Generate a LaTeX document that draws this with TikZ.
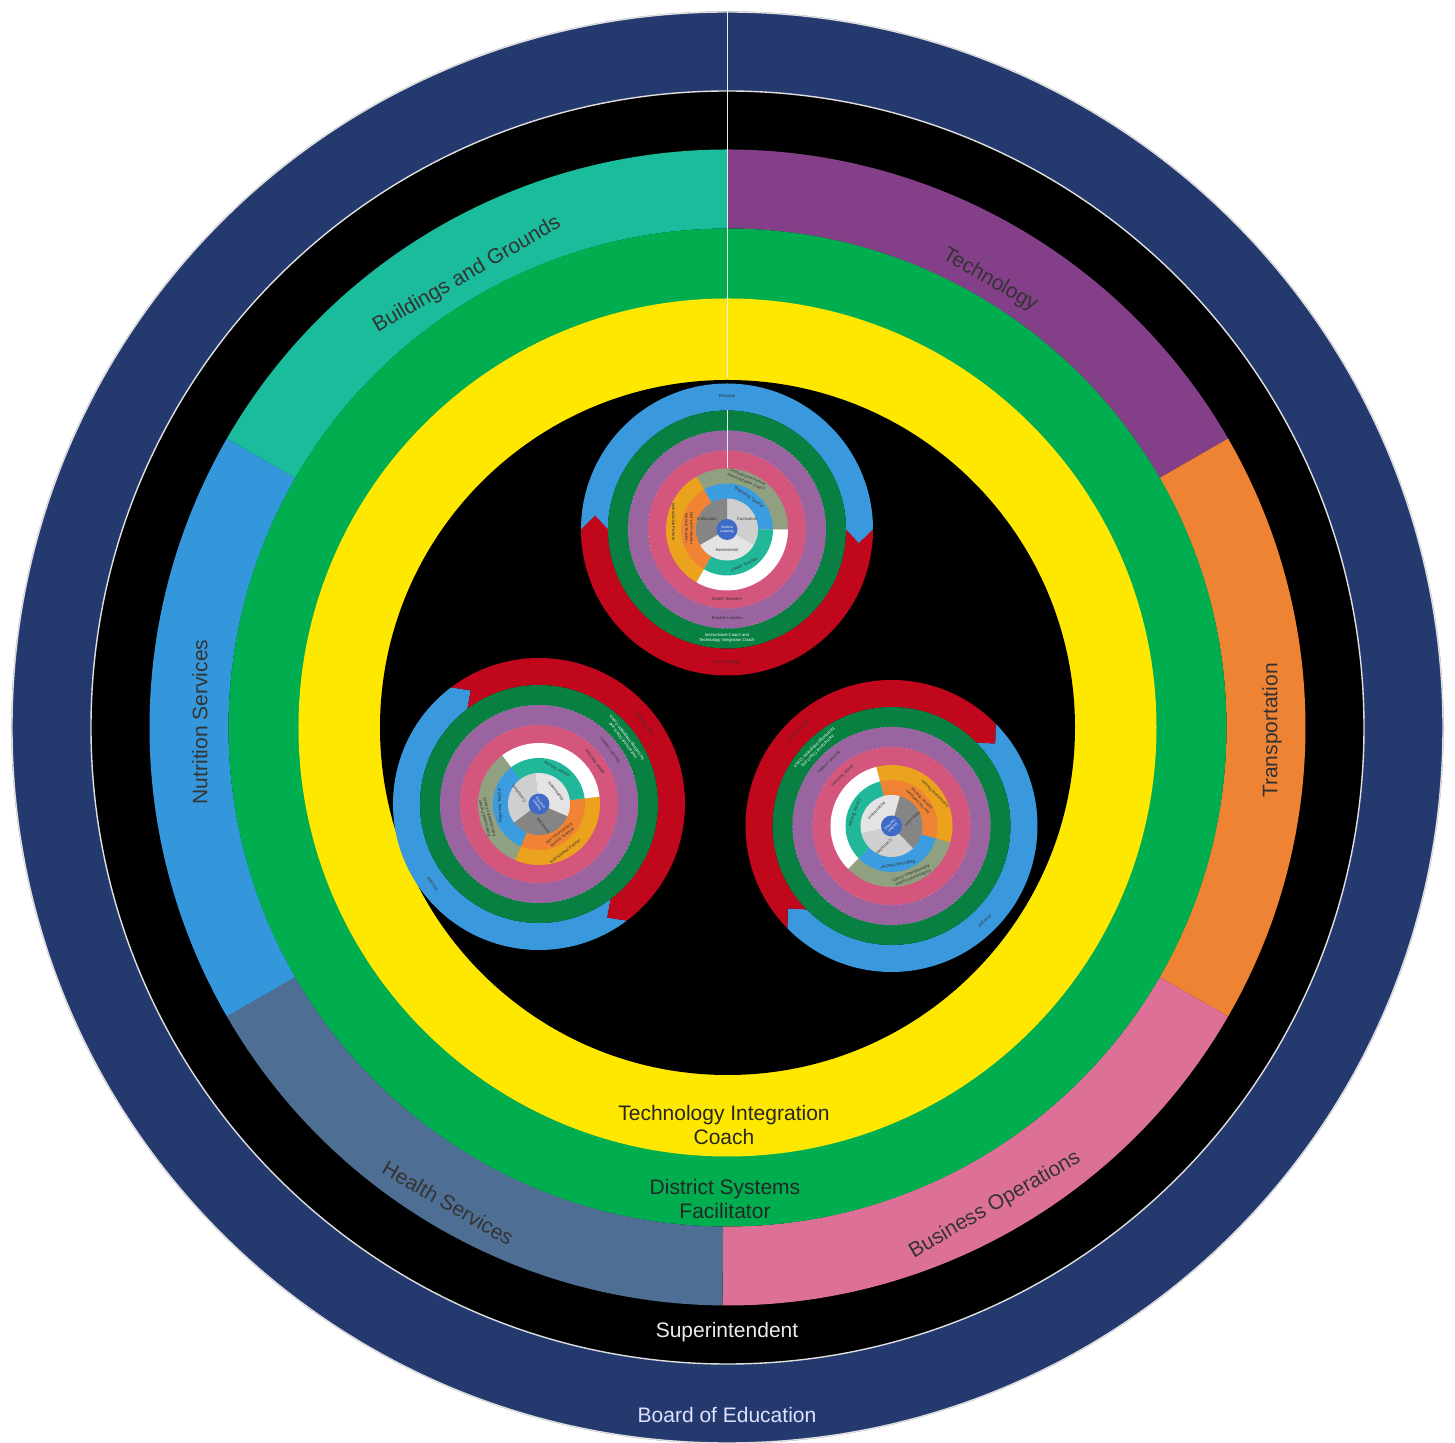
\documentclass[tikz,border=0pt]{standalone}
\usepackage{fontspec}
\setmainfont{Liberation Sans}
\definecolor{navy}{HTML}{243A6F}
\definecolor{tech}{HTML}{833F87}
\definecolor{transp}{HTML}{EE8334}
\definecolor{busops}{HTML}{DD7096}
\definecolor{health}{HTML}{4E6F93}
\definecolor{nutr}{HTML}{3597DB}
\definecolor{bldg}{HTML}{1ABC9C}
\definecolor{dgreen}{HTML}{00AE4F}
\definecolor{dyellow}{HTML}{FFE800}
\definecolor{sblue}{HTML}{3A99DD}
\definecolor{sred}{HTML}{C0071B}
\definecolor{sgreen}{HTML}{078042}
\definecolor{spurple}{HTML}{9A64A0}
\definecolor{spink}{HTML}{D4567C}
\definecolor{solive}{HTML}{90A182}
\definecolor{sgold}{HTML}{EBA21C}
\definecolor{smblue}{HTML}{3B9CE0}
\definecolor{sorange}{HTML}{F08434}
\definecolor{steal}{HTML}{21B89A}
\definecolor{scurr}{HTML}{CFCFCF}
\definecolor{sinstr}{HTML}{858585}
\definecolor{sassess}{HTML}{E4E4E4}
\definecolor{scenter}{HTML}{3F6BC6}
\newcommand\mainf{\fontsize{10.5}{12}\selectfont}
\newcommand\tinyf{\fontsize{2.1}{2.5}\selectfont}
\newcommand\tinierf{\fontsize{1.7}{2}\selectfont}
\newcommand\annsec[5]{\fill[#1] (#2:#5) arc[start angle=#2,end angle=#3,radius=#5] -- (#3:#4) arc[start angle=#3,end angle=#2,radius=#4] -- cycle;}
\tikzset{
  rimline/.style={draw=white!75!gray,line width=0.7pt},
  seam/.style={draw=white!85!gray,line width=0.7pt},
  sseam/.style={draw=white!85!gray,line width=0.25pt},
  sdot/.style={draw=white!80!gray,line width=0.2pt,dotted},
  seglabel/.style={font=\mainf,text=black!80,inner sep=0pt},
  ringlabel/.style={font=\mainf,inner sep=0pt,align=center},
  stxt/.style={font=\tinyf,transform shape,inner sep=0pt,align=center,text=black!80},
}
\newcommand\school[1]{%
\fill[sblue] (180:146) arc[start angle=180,end angle=0,radius=146] -- (-6:132.5) -- (0:119) arc[start angle=0,end angle=180,radius=119] -- (174:132.5) -- cycle;
\fill[sred] (0:146) arc[start angle=0,end angle=-180,radius=146] -- (174:132.5) -- (180:119) arc[start angle=180,end angle=360,radius=119] -- (-6:132.5) -- cycle;
\fill[sgreen] (0,0) circle[radius=119];
\fill[spurple] (0,0) circle[radius=99];
\draw[sdot] (0,0) circle[radius=99];
\fill[spink] (0,0) circle[radius=79];
\draw[sdot] (0,0) circle[radius=79];
\fill[solive] (0,0) -- (0:61) arc[start angle=0,end angle=120,radius=61] -- cycle;
\fill[sgold] (0,0) -- (120:61) arc[start angle=120,end angle=240,radius=61] -- cycle;
\fill[white] (0,0) -- (240:61) arc[start angle=240,end angle=360,radius=61] -- cycle;
\fill[smblue] (0,0) -- (0:46) arc[start angle=0,end angle=120,radius=46] -- cycle;
\fill[sorange] (0,0) -- (120:46) arc[start angle=120,end angle=240,radius=46] -- cycle;
\fill[steal] (0,0) -- (240:46) arc[start angle=240,end angle=360,radius=46] -- cycle;
\fill[scurr] (0,0) -- (-30:31) arc[start angle=-30,end angle=90,radius=31] -- cycle;
\fill[sinstr] (0,0) -- (90:31) arc[start angle=90,end angle=210,radius=31] -- cycle;
\fill[sassess] (0,0) -- (210:31) arc[start angle=210,end angle=330,radius=31] -- cycle;
\fill[scenter] (0,0) circle[radius=10.5];
\node[stxt] (#1p) at (90:133) {Principal};
\node[stxt] (#1ap) at (270:133) {Asst. Principal};
\node[stxt,text=white] (#1ic) at (0,-108) {Instructional Coach and\\Technology Integration Coach};
\node[stxt] (#1tl) at (0,-89) {Teacher Leaders};
\node[stxt] (#1mt) at (0,-70) {Model Teachers};
\node[stxt,rotate=-22] (#1pp) at (68:54) {Professional Partner\\Administration Coach};
\node[stxt,rotate=-35] (#1bt) at (55:39) {Beginning Teacher};
\node[stxt,rotate=25] (#1ct) at (-64:39) {Career Teacher};
\node[stxt,rotate=-90] (#1ip) at (172:54) {Instructional Partner};
\node[stxt,rotate=-90] (#1ny) at (178:38) {Not Yet Proficient\\Novice Teacher};
\node[stxt] (#1in) at (-20,10) {Instruction};
\node[stxt] (#1cu) at (20,10) {Curriculum};
\node[stxt] (#1as) at (0,-21) {Assessment};
\node[stxt,font=\tinierf,text=white] (#1sl) at (0,0) {Student\\Learning};
}
\begin{document}
\begin{tikzpicture}[x=0.5pt,y=0.5pt]
\fill[white] (-727.5,-715.5) rectangle (727.5,727.5);
\useasboundingbox (-727.5,-715.5) rectangle (727.5,727.5);
% outer rings
\fill[navy] (0,0) circle[radius=716];
\draw[rimline] (0,0) circle[radius=715.5];
\fill[black] (0,0) circle[radius=636.5];
\draw[rimline] (0,0) circle[radius=636.5];
% departments
\annsec{tech}{90}{30}{499}{578}
\annsec{transp}{30}{-30}{499}{578}
\annsec{busops}{-30}{-90.5}{499}{578}
\annsec{health}{-90.5}{-150}{499}{578}
\annsec{nutr}{150}{210}{499}{578}
\annsec{bldg}{150}{90}{499}{578}
% inner rings
\fill[dgreen] (0,0) circle[radius=499];
\fill[dyellow] (0,0) circle[radius=429];
\fill[black] (0,0) circle[radius=347.5];
\draw[seam] (0,716) -- (0,349);
% labels
\node[seglabel,rotate=30] (bg) at (-260.5,452.5) {Buildings and Grounds};
\node[seglabel,rotate=-30] (te) at (262.5,447.5) {Technology};
\node[seglabel,rotate=90] (ns) at (-527.5,5.5) {Nutrition Services};
\node[seglabel,rotate=90] (tr) at (544.5,-3) {Transportation};
\node[seglabel,rotate=-30] (hs) at (-279.5,-475.5) {Health Services};
\node[seglabel,rotate=30] (bo) at (267.5,-477.5) {Business Operations};
\node[ringlabel,text=white!92!black] (su) at (-0.5,-604.5) {Superintendent};
\node[ringlabel,text=white!88!blue] (be) at (-0.5,-687.5) {Board of Education};
\node[ringlabel,text=black!85] (tic) at (-3.5,-397.5) {Technology Integration\\Coach};
\node[ringlabel,text=black!85] (dsf) at (-2.5,-471.5) {District Systems\\Facilitator};
% schools
\begin{scope}[shift={(-0.5,198)}]
\school{t}
\draw[sseam] (90:119) -- (90:61);
\end{scope}
\begin{scope}[shift={(-188.5,-76.5)},rotate=127]
\school{l}
\end{scope}
\begin{scope}[shift={(164,-98.5)},rotate=-135.5]
\school{r}
\end{scope}
\end{tikzpicture}
\end{document}
